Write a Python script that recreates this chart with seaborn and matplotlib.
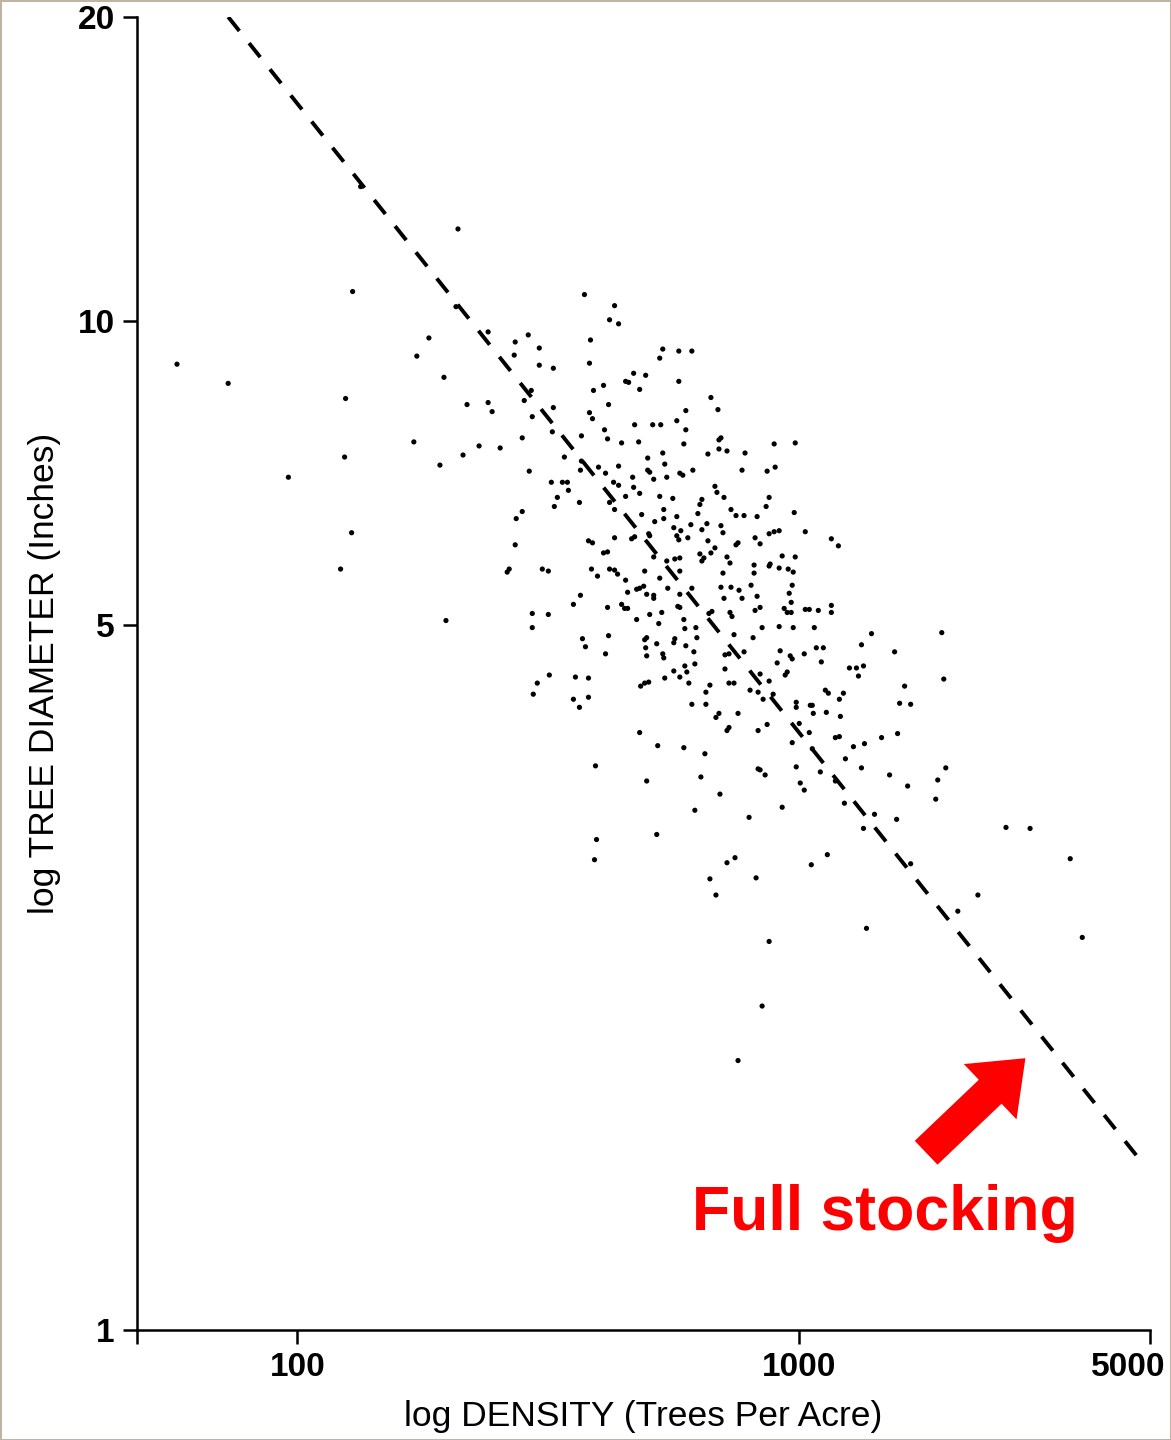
import numpy as np
import pandas as pd
import matplotlib
matplotlib.use("Agg")
import matplotlib.pyplot as plt
from matplotlib.ticker import NullLocator
from matplotlib.transforms import ScaledTranslation
import seaborn as sns

# ---- data (log10 values) ----
log_density = [
    2.126, 2.320, 2.110, 2.316, 1.760, 1.862, 2.262, 2.238, 2.292, 2.338,
    2.096, 2.232, 2.362, 2.330, 2.284, 2.094, 1.982, 2.108, 2.086, 2.296,
    # group 2
    2.572, 2.632, 2.622, 2.640, 2.380, 2.460, 2.434, 2.584, 2.482, 2.432,
    2.582, 2.482, 2.510, 2.670, 2.654, 2.660, 2.682, 2.610, 2.590, 2.466,
    2.452, 2.380, 2.388, 2.510, 2.468, 2.620, 2.582, 2.588, 2.672, 2.612,
    2.618, 2.508, 2.566, 2.448, 2.404, 2.646, 2.680, 2.532, 2.566, 2.564,
    2.600, 2.614, 2.640, 2.462, 2.668,
    # group 3
    2.728, 2.760, 2.786, 2.722, 2.694, 2.760, 2.824, 2.838, 2.774, 2.756,
    2.708, 2.724, 2.774, 2.844, 2.840, 2.770, 2.950, 2.992, 2.840, 2.856,
    2.818, 2.892, 2.698, 2.728, 2.732, 2.698, 2.702, 2.762, 2.768, 2.788,
    2.886, 2.936, 2.952, 2.710, 2.736,
    # group 4
    2.506, 2.528, 2.538, 2.540, 2.518, 2.512, 2.562, 2.448, 2.436, 2.434,
    2.422, 2.418, 2.488, 2.500, 2.630, 2.640, 2.670, 2.682, 2.654, 2.622,
    2.632, 2.632, 2.666, 2.672, 2.580, 2.588, 2.610, 2.618, 2.586, 2.622,
    2.632, 2.638, 2.598, 2.654, 2.658, 2.676, 2.682, 2.564, 2.550, 2.618,
    2.646, 2.652, 2.658, 2.468, 2.500, 2.468, 2.676, 2.568, 2.574, 2.620,
    2.614, 2.502, 2.554, 2.580,
    # group 5
    2.832, 2.836, 2.722, 2.748, 2.850, 2.806, 2.802, 2.940, 2.934, 2.730,
    2.864, 2.874, 2.890, 2.916, 2.798, 2.990, 2.686, 2.730, 2.756, 2.712,
    2.784, 2.816, 2.750, 2.764, 2.806, 2.844, 2.848, 2.700, 2.702, 2.756,
    2.760, 2.778, 2.818, 2.878, 2.874, 2.912, 2.922, 2.940, 2.950, 2.960,
    3.012, 2.710, 2.736, 2.752, 2.762, 2.802, 2.810, 2.806, 2.824, 2.832,
    2.856, 2.862, 2.692, 2.762, 2.722, 2.848, 2.910, 2.910, 2.940, 2.942,
    2.960, 2.978, 2.988, 2.992, 2.966, 2.690, 2.738, 2.786, 2.844, 2.864,
    2.880, 2.904, 2.986, 2.696, 2.710, 2.710, 2.762, 2.850, 2.886, 2.916,
    2.980, 2.758, 2.762, 2.984, 2.922, 2.912, 2.702, 2.726, 2.820, 2.826,
    2.862, 2.866, 2.970, 2.976, 2.984, 3.012, 3.020, 2.770, 2.720, 2.772,
    2.794, 2.926, 2.960, 2.988, 2.696, 2.692, 2.752, 2.750, 2.796, 2.870,
    2.908, 2.716, 2.774, 2.790, 2.694, 2.696, 2.728, 2.730, 2.852, 2.860,
    2.890, 2.962, 2.982, 2.986, 3.010, 2.772, 2.792, 2.852, 2.956, 2.750,
    2.776, 2.922, 2.976, 2.972, 2.732, 2.762,
    # group 6
    3.064, 3.078, 3.038, 3.064, 3.064, 3.030, 3.144, 3.284, 3.124, 3.190,
    3.034, 3.048, 3.044, 3.100, 3.114, 3.128, 3.118, 3.288,
    # group 7
    2.478, 2.470, 2.550, 2.562, 2.580, 2.684, 2.682, 2.594, 2.596, 2.592,
    # group 8
    2.692, 2.700, 2.780, 2.822, 2.814, 2.860, 2.870, 2.902, 2.918, 2.940,
    2.948, 2.928, 2.786, 2.814, 2.834, 2.840, 2.878, 2.994, 2.994, 3.022,
    3.000, 2.936, 2.918, 2.856, 2.860, 3.020, 2.986, 2.718, 2.770, 2.812,
    2.994, 2.918, 2.922, 2.932, 2.696, 2.804, 3.002, 3.010, 2.842, 2.966,
    2.792, 2.900, 2.716, 2.872, 2.856, 2.822, 2.914, 3.024,
    # group 9
    3.052, 3.058, 3.088, 3.080, 3.026, 3.028, 3.054, 3.082, 3.210, 3.200,
    3.222, 3.072, 3.080, 3.026, 3.108, 3.130, 3.164, 3.196, 3.092, 3.124,
    3.042, 3.180, 3.216, 3.292, 3.276, 3.272, 3.072, 3.090, 3.150, 3.128,
    3.194, 3.056, 3.222,
    # group 10
    2.834, 3.134, 2.940, 2.926, 2.878, 3.412, 3.460, 3.540, 3.356, 3.316,
    3.564,
]

log_diameter = [
    1.133, 1.091, 1.029, 1.014, 0.957, 0.938, 0.983, 0.965, 0.944, 0.917,
    0.923, 0.880, 0.876, 0.867, 0.857, 0.865, 0.845, 0.790, 0.754, 0.703,
    # group 2
    1.026, 1.015, 1.001, 0.997, 0.989, 0.986, 0.979, 0.981, 0.973, 0.966,
    0.958, 0.956, 0.953, 0.948, 0.940, 0.939, 0.932, 0.936, 0.931, 0.931,
    0.921, 0.919, 0.910, 0.914, 0.905, 0.917, 0.909, 0.903, 0.897, 0.892,
    0.883, 0.890, 0.886, 0.884, 0.874, 0.879, 0.880, 0.865, 0.861, 0.852,
    0.855, 0.849, 0.856, 0.851, 0.845,
    # group 3
    0.972, 0.970, 0.970, 0.963, 0.946, 0.940, 0.924, 0.912, 0.911, 0.901,
    0.897, 0.897, 0.892, 0.884, 0.882, 0.878, 0.878, 0.879, 0.873, 0.871,
    0.868, 0.869, 0.864, 0.869, 0.858, 0.852, 0.850, 0.849, 0.847, 0.852,
    0.852, 0.851, 0.855, 0.843, 0.845,
    # group 4
    0.840, 0.840, 0.840, 0.832, 0.825, 0.816, 0.820, 0.811, 0.804, 0.778,
    0.754, 0.751, 0.754, 0.752, 0.840, 0.837, 0.835, 0.829, 0.826, 0.820,
    0.813, 0.785, 0.784, 0.786, 0.782, 0.780, 0.770, 0.771, 0.754, 0.754,
    0.753, 0.749, 0.747, 0.743, 0.731, 0.734, 0.735, 0.728, 0.719, 0.716,
    0.719, 0.715, 0.715, 0.710, 0.709, 0.696, 0.704, 0.685, 0.677, 0.688,
    0.670, 0.649, 0.647, 0.646,
    # group 5
    0.836, 0.830, 0.826, 0.824, 0.825, 0.823, 0.818, 0.825, 0.816, 0.813,
    0.813, 0.807, 0.807, 0.806, 0.809, 0.810, 0.808, 0.804, 0.806, 0.801,
    0.798, 0.799, 0.795, 0.792, 0.793, 0.797, 0.790, 0.789, 0.787, 0.787,
    0.783, 0.785, 0.782, 0.780, 0.778, 0.785, 0.779, 0.789, 0.791, 0.792,
    0.791, 0.766, 0.762, 0.764, 0.765, 0.769, 0.765, 0.762, 0.770, 0.775,
    0.766, 0.760, 0.752, 0.752, 0.745, 0.750, 0.758, 0.750, 0.757, 0.759,
    0.755, 0.754, 0.751, 0.766, 0.767, 0.737, 0.735, 0.735, 0.736, 0.736,
    0.733, 0.738, 0.738, 0.729, 0.728, 0.725, 0.729, 0.725, 0.725, 0.727,
    0.730, 0.717, 0.716, 0.721, 0.716, 0.713, 0.709, 0.711, 0.710, 0.712,
    0.711, 0.707, 0.715, 0.711, 0.711, 0.714, 0.714, 0.704, 0.700, 0.695,
    0.696, 0.696, 0.697, 0.696, 0.686, 0.684, 0.685, 0.681, 0.686, 0.689,
    0.686, 0.680, 0.678, 0.672, 0.676, 0.668, 0.670, 0.666, 0.669, 0.670,
    0.672, 0.673, 0.668, 0.665, 0.670, 0.658, 0.660, 0.655, 0.661, 0.653,
    0.652, 0.650, 0.652, 0.649, 0.646, 0.647,
    # group 6
    0.784, 0.777, 0.713, 0.718, 0.711, 0.696, 0.690, 0.691, 0.679, 0.672,
    0.676, 0.676, 0.662, 0.656, 0.656, 0.658, 0.648, 0.645,
    # group 7
    0.641, 0.630, 0.625, 0.617, 0.627, 0.638, 0.592, 0.559, 0.486, 0.466,
    # group 8
    0.641, 0.642, 0.641, 0.639, 0.632, 0.641, 0.641, 0.634, 0.632, 0.643,
    0.630, 0.625, 0.620, 0.620, 0.607, 0.611, 0.611, 0.622, 0.617, 0.619,
    0.601, 0.600, 0.594, 0.594, 0.597, 0.592, 0.582, 0.579, 0.577, 0.571,
    0.558, 0.556, 0.555, 0.550, 0.544, 0.548, 0.542, 0.535, 0.531, 0.518,
    0.515, 0.508, 0.491, 0.468, 0.463, 0.447, 0.448, 0.461,
    # group 9
    0.634, 0.631, 0.631, 0.625, 0.619, 0.611, 0.612, 0.608, 0.638, 0.621,
    0.620, 0.587, 0.588, 0.576, 0.578, 0.581, 0.587, 0.591, 0.566, 0.557,
    0.553, 0.550, 0.539, 0.557, 0.545, 0.526, 0.544, 0.522, 0.511, 0.497,
    0.506, 0.471, 0.462,
    # group 10
    0.431, 0.398, 0.385, 0.321, 0.267, 0.498, 0.497, 0.467, 0.431, 0.415,
    0.389,
]

# full-stocking (self-thinning) line endpoints
line_density = [72.8, 4850.0]
line_diameter = [20.0, 1.46]

x_ticks = [100, 1000, 5000]
y_ticks = [1, 5, 10, 20]
x_min, x_max = 47.9, 5000
y_min, y_max = 1, 20
x_label = "log DENSITY (Trees Per Acre)"
y_label = "log TREE DIAMETER (Inches)"
annotation_text = "Full stocking"

# ---- styling ----
sns.set_theme(style="ticks")
plt.rcParams["font.family"] = ["Liberation Sans", "DejaVu Sans"]

df = pd.DataFrame({
    "density": 10 ** np.array(log_density),
    "diameter": 10 ** np.array(log_diameter),
})

W, H = 1171, 1440
fig = plt.figure(figsize=(W / 100, H / 100), dpi=100)
fig.patch.set_facecolor("white")
fig.patch.set_edgecolor("#bdb4a2")
fig.patch.set_linewidth(2)

ax = fig.add_axes([137 / W, 1 - 1330 / H, (1150 - 137) / W, (1330 - 17) / H])
ax.set_facecolor("white")

sns.scatterplot(data=df, x="density", y="diameter", s=14, color="black",
                edgecolor="none", linewidth=0, ax=ax, zorder=3)

ax.plot(line_density, line_diameter, color="black", lw=2.8,
        linestyle=(0, (4.6, 4.0)), dash_capstyle="butt", zorder=4)

ax.set_xscale("log")
ax.set_yscale("log")
ax.set_xlim(x_min, x_max)
ax.set_ylim(y_min, y_max)

ax.xaxis.set_minor_locator(NullLocator())
ax.yaxis.set_minor_locator(NullLocator())
ax.set_xticks([x_min] + x_ticks)
ax.set_xticklabels([""] + [str(t) for t in x_ticks])
ax.set_yticks(y_ticks)
ax.set_yticklabels([str(t) for t in y_ticks])

ax.tick_params(axis="both", which="major", length=10, width=1.8,
               color="black", direction="out", labelsize=24,
               labelcolor="black")
ax.tick_params(axis="x", pad=6)
ax.tick_params(axis="y", pad=6)

for lab in ax.get_xticklabels() + ax.get_yticklabels():
    lab.set_fontweight("bold")

# the last x tick label sits slightly inside the figure, as in the reference
last_tick = ax.xaxis.get_major_ticks()[-1]
last_tick.label1.set_transform(last_tick.label1.get_transform()
                               + ScaledTranslation(-0.22, 0, fig.dpi_scale_trans))

sns.despine(ax=ax, top=True, right=True)
for side in ["left", "bottom"]:
    ax.spines[side].set_linewidth(1.8)
    ax.spines[side].set_color("black")

ax.set_xlabel(x_label, fontsize=25.5, color="black", labelpad=12)
ax.set_ylabel(y_label, fontsize=25.5, color="black", labelpad=12)
ax.grid(False)

ax.annotate("", xy=(0.877, 0.207), xytext=(0.779, 0.135),
            xycoords="axes fraction", textcoords="axes fraction",
            arrowprops=dict(arrowstyle="simple,head_length=1.4,head_width=2.2,tail_width=0.95",
                            fc="#ff0000", ec="none", mutation_scale=25,
                            shrinkA=0, shrinkB=0))

ax.text(0.738, 0.0885, annotation_text, transform=ax.transAxes,
        color="#ff0000", fontsize=45, fontweight="bold",
        ha="center", va="center")

fig.savefig("out.png", dpi=100, facecolor=fig.get_facecolor(),
            edgecolor=fig.get_edgecolor())
